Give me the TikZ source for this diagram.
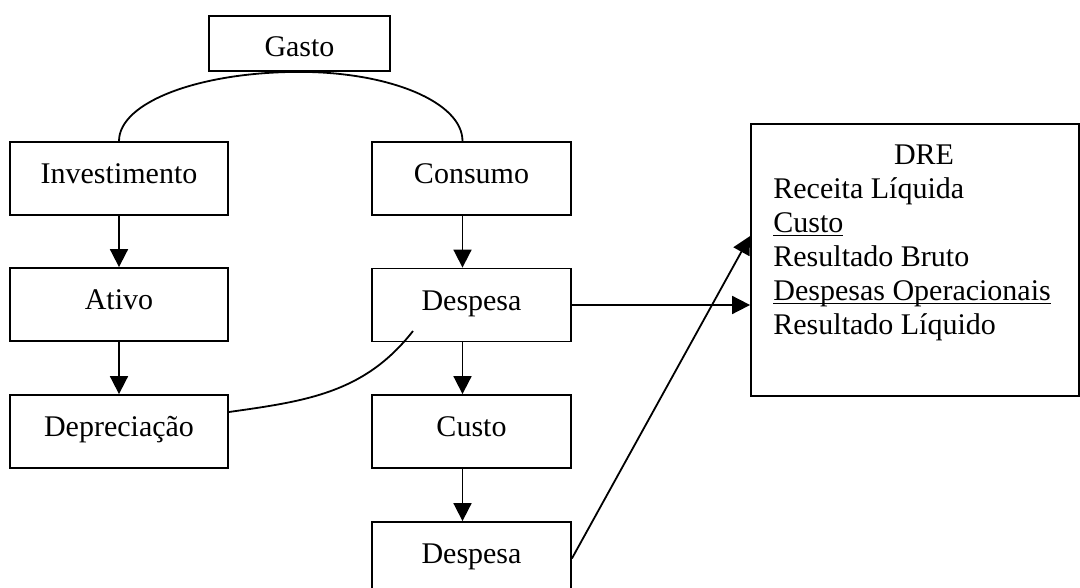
\documentclass[tikz,border=0pt]{standalone}
\usepackage{fontspec}
\setmainfont{Liberation Serif}
\usetikzlibrary{arrows.meta}
\newcommand{\sublinha}[1]{\underline{\smash{#1}}}
\tikzset{>/.tip={Triangle[length=9pt,width=9pt]},
  bloco/.style={draw, line width=0.9pt, minimum width=99.5pt, minimum height=36.5pt,
    text height=10pt, text depth=4.5pt, inner sep=0pt},
  linha/.style={line width=0.9pt}}

\begin{document}
\begin{tikzpicture}[x=0.5pt,y=0.5pt,font=\fontsize{15}{17}\selectfont]
\clip (0,0) rectangle (1080,588);
\node[bloco, minimum width=90.5pt, minimum height=27.5pt, text height=13.5pt, text depth=0pt] (gasto) at (299.5,544.5) {Gasto};
\node[bloco, minimum width=109pt] (inv)    at (119,409.5)   {Investimento};
\node[bloco, minimum width=109pt] (ativo)  at (119,283.5)   {Ativo};
\node[bloco, minimum width=109pt] (deprec) at (119,156.5)   {Depreciação};
\node[bloco] (cons)  at (471.5,409.5) {Consumo};
\node[bloco] (desp)  at (471.5,283)   {Despesa};
\node[bloco] (custo) at (471.5,156.5) {Custo};
\node[bloco] (despb) at (471.5,29.5)  {Despesa};
\node[draw, line width=0.9pt, minimum width=164pt, minimum height=136pt] (dre) at (915,328) {};
\node[anchor=base, inner sep=0pt] (dretit) at (924,423) {DRE};
\foreach \txt [count=\i] in {Receita Líquida, \sublinha{Custo}, Resultado Bruto,
  \sublinha{Despesas Operacionais}, Resultado Líquido}
{
  \node[anchor=base west, inner sep=0pt] (dre\i) at (773,{423-34*\i}) {\txt};
}
% gasto splits in two
\draw[linha] (inv.north) .. controls +(0,39) and +(-100,0) .. (gasto.south)
  .. controls +(90,0) and +(0,39) .. ([xshift=-4.5pt]cons.north);
\foreach \a/\b in {inv/ativo, ativo/deprec}
{
  \draw[linha,->] (\a) -- (\b);
}
\foreach \a/\b in {cons/desp, desp/custo, custo/despb}
{
  \draw[linha,->] ([xshift=-4.5pt]\a.south) -- ([xshift=-4.5pt]\b.north);
}
\draw[linha] ([yshift=9.75pt]deprec.east) to[out=8,in=232] ([shift={(-58.5,-26)}]desp.center);
\draw[linha,->] (desp.east) -- (desp.east -| dre.west);
\draw[linha,->] (despb.east) -- ([yshift=12pt]dre.west);
\end{tikzpicture}
\end{document}
